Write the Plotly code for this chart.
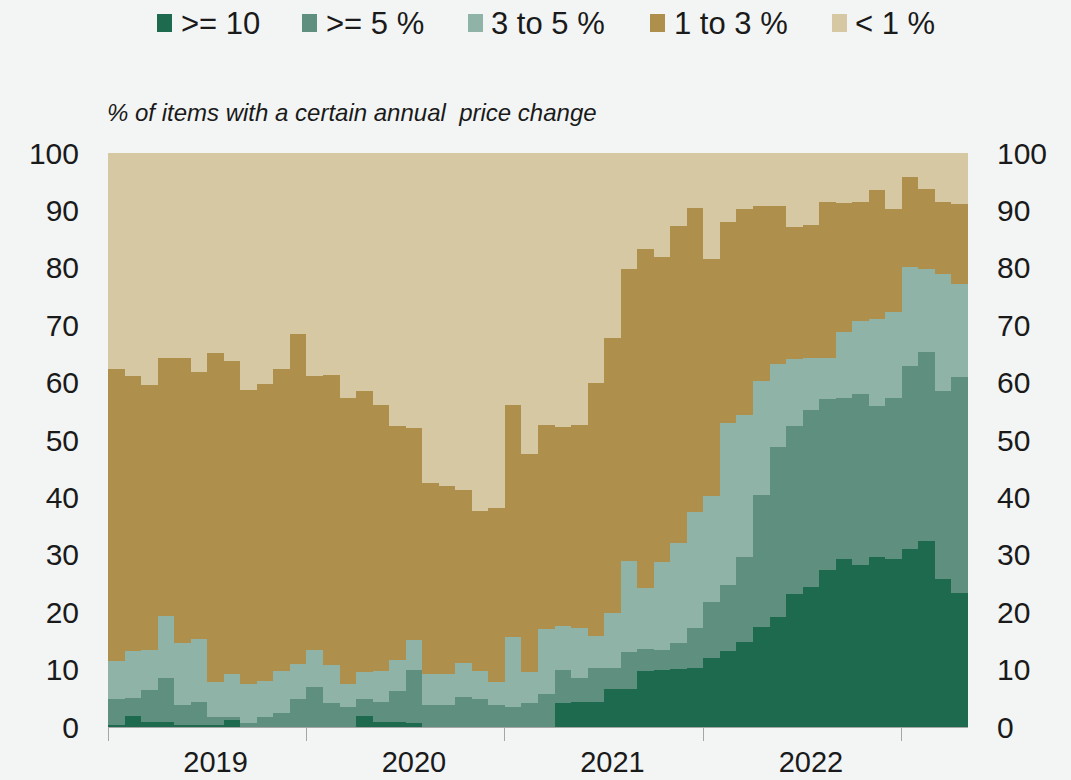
import numpy as np
import pandas as pd
import plotly.graph_objects as go

# Monthly periods, Jan 2019 - Apr 2023
months = pd.date_range("2019-01-01", periods=52, freq="MS").strftime("%b %Y").tolist()
years = ["2019", "2020", "2021", "2022"]

# Share of items (%) in each band of annual price change
share_ge10 = [0.3, 1.9, 0.9, 0.9, 0.4, 0.4, 0.4, 1.2, 0, 0, 0, 0,
              0, 0, 0, 1.9, 0.9, 0.9, 0.7, 0, 0, 0, 0, 0,
              0, 0, 0, 4.1, 4.3, 4.3, 6.6, 6.6, 9.7, 9.9, 10.1, 10.3,
              12.1, 13.2, 14.8, 17.4, 19.2, 23.2, 24.4, 27.3, 29.2, 28.2, 29.7, 29.2,
              31.0, 32.4, 25.7, 23.3]
share_5to10 = [4.5, 3.1, 5.6, 7.6, 3.5, 3.9, 1.4, 0.6, 0.7, 1.8, 2.5, 4.8,
               7.0, 4.1, 3.5, 2.9, 3.4, 5.4, 9.2, 3.9, 3.9, 5.2, 4.8, 3.9,
               3.5, 4.1, 5.7, 5.8, 4.2, 6.0, 3.7, 6.4, 3.9, 3.5, 4.5, 6.9,
               9.6, 11.6, 14.8, 23.0, 29.5, 29.3, 30.8, 29.8, 28.2, 29.9, 26.2, 28.2,
               31.9, 33.0, 32.8, 37.6]
share_3to5 = [6.7, 8.2, 6.9, 10.9, 10.7, 11.1, 6.1, 7.4, 6.8, 6.3, 7.2, 6.2,
              6.4, 6.7, 4.0, 4.7, 5.4, 5.4, 5.3, 5.3, 5.3, 5.9, 4.9, 4.0,
              12.1, 5.4, 11.3, 7.7, 8.7, 5.6, 9.6, 16.0, 10.6, 15.4, 17.4, 20.3,
              18.5, 28.1, 24.7, 19.9, 14.5, 11.6, 9.0, 7.1, 11.4, 12.6, 15.1, 14.9,
              17.3, 14.4, 20.5, 16.3]
share_1to3 = [50.9, 47.9, 46.2, 44.8, 49.6, 46.5, 57.3, 54.6, 51.2, 51.7, 52.6, 57.5,
              47.7, 50.6, 49.9, 49.0, 46.4, 40.8, 36.9, 33.3, 32.7, 30.2, 28.0, 30.2,
              40.5, 38.0, 35.7, 34.7, 35.4, 44.0, 47.9, 50.8, 59.0, 53.1, 55.2, 53.0,
              41.3, 35.1, 36.0, 30.5, 27.6, 23.0, 23.3, 27.3, 22.5, 20.8, 22.5, 18.0,
              15.7, 13.9, 12.5, 14.0]
share_lt1 = [37.6, 38.9, 40.4, 35.8, 35.8, 38.1, 34.8, 36.2, 41.3, 40.2, 37.7, 31.5,
             38.9, 38.6, 42.6, 41.5, 43.9, 47.5, 47.9, 57.5, 58.1, 58.7, 62.3, 61.9,
             43.9, 52.5, 47.3, 47.7, 47.4, 40.1, 32.2, 20.2, 16.8, 18.1, 12.8, 9.5,
             18.5, 12.0, 9.7, 9.2, 9.2, 12.9, 12.5, 8.5, 8.7, 8.5, 6.5, 9.7,
             4.1, 6.3, 8.5, 8.8]

series_names = [">= 10", ">= 5 %", "3 to 5 %", "1 to 3 %", "< 1 %"]
series_values = [share_ge10, share_5to10, share_3to5, share_1to3, share_lt1]
series_colors = ["#1e6a4f", "#5f8f7e", "#8fb4a7", "#ae8f4c", "#d7c8a4"]

FONT = "Liberation Sans, Arial, sans-serif"
TXT = "#1a1a1a"
BG = "#f3f5f5"
AXC = "#a6a6a6"

W, H = 1071, 780
ML, MR, MT, MB = 108, 103, 153, 53
PW, PH = W - ML - MR, H - MT - MB


def px_x(px):
    return (px - ML) / PW


def px_y(py):
    return 1 + (MT - py) / PH


n = len(months)
x = np.arange(n) + 0.5

fig = go.Figure()
for name, vals, col in zip(series_names, series_values, series_colors):
    fig.add_trace(go.Bar(
        x=x, y=vals, name=name, width=1.0, showlegend=False,
        marker=dict(color=col, line=dict(width=0)),
        customdata=months,
        hovertemplate="%{customdata}<br>" + name + ": %{y:.1f}%<extra></extra>",
    ))

# invisible companion trace so the right-hand value axis is drawn
fig.add_trace(go.Scatter(
    x=x, y=share_ge10, yaxis="y2", mode="lines",
    line=dict(width=0, color="rgba(0,0,0,0)"),
    hoverinfo="skip", showlegend=False,
))

year_mid = [12 * i + 6.5 for i in range(len(years))]
year_edges = [12 * i for i in range(len(years) + 1)]

# Manual legend (swatch + label) across the top
legend_swatch_x = [157, 302, 468, 650, 832]
legend_text_x = [181, 326, 491, 674, 855]
shapes = []
annotations = []
for name, col, sx, tx in zip(series_names, series_colors, legend_swatch_x, legend_text_x):
    shapes.append(dict(type="rect", xref="paper", yref="paper",
                       x0=px_x(sx), x1=px_x(sx + 15), y0=px_y(32), y1=px_y(14),
                       fillcolor=col, line=dict(width=0), layer="above"))
    annotations.append(dict(text=name, xref="paper", yref="paper",
                            x=px_x(tx), y=px_y(23), xanchor="left", yanchor="middle",
                            showarrow=False, xshift=-2,
                            font=dict(size=31, family=FONT, color=TXT)))

annotations.append(dict(
    text="% of items with a certain annual  price change",
    xref="paper", yref="paper", x=px_x(105), y=px_y(112),
    xanchor="left", yanchor="middle", showarrow=False,
    font=dict(size=24, family=FONT, color=TXT, style="italic"),
))

fig.update_layout(
    width=W, height=H, autosize=False,
    margin=dict(l=ML, r=MR, t=MT, b=MB, pad=0),
    paper_bgcolor=BG, plot_bgcolor=BG,
    barmode="stack", bargap=0, bargroupgap=0,
    font=dict(family=FONT, color=TXT),
    showlegend=False,
    xaxis=dict(
        range=[0, n], tickmode="array", tickvals=year_mid, ticktext=years,
        ticks="", showgrid=False, zeroline=False, automargin=False,
        showline=True, linecolor=AXC, linewidth=1,
        tickfont=dict(size=29, family=FONT, color=TXT),
        ticklabelstandoff=9,
        minor=dict(tickmode="array", tickvals=year_edges, ticks="outside",
                   ticklen=13, tickwidth=1, tickcolor=AXC, showgrid=False),
    ),
    yaxis=dict(
        range=[0, 100], dtick=10, tick0=0, showgrid=False, zeroline=False,
        showline=False, ticks="", automargin=False,
        tickfont=dict(size=30, family=FONT, color=TXT),
        ticklabelstandoff=28,
    ),
    yaxis2=dict(
        overlaying="y", side="right", matches="y",
        range=[0, 100], dtick=10, tick0=0, showgrid=False, zeroline=False,
        showline=False, ticks="", automargin=False,
        tickfont=dict(size=30, family=FONT, color=TXT),
        ticklabelstandoff=28,
    ),
    shapes=shapes,
    annotations=annotations,
)

fig.write_html("out.html", config={"displayModeBar": False},
               post_script="document.body.style.margin='0';")
